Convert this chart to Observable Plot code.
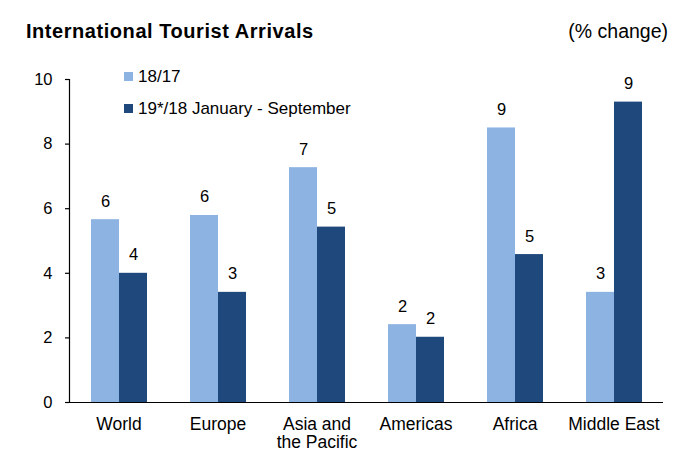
<!DOCTYPE html>
<html>
<head>
<meta charset="utf-8">
<script src="https://cdn.jsdelivr.net/npm/d3@7"></script>
<script src="https://cdn.jsdelivr.net/npm/@observablehq/plot@0.6"></script>
<style>
  html, body { margin: 0; padding: 0; background: #fff; }
  #wrap { position: relative; width: 691px; height: 466px; font-family: "Liberation Sans", Arial, sans-serif; color: #000; }
  #title { position: absolute; left: 26px; top: 20px; font-size: 20px; font-weight: bold; letter-spacing: 0.55px; white-space: nowrap; }
  #unit { position: absolute; right: 23px; top: 20px; font-size: 19.5px; white-space: nowrap; }
  .leg { position: absolute; left: 124px; font-size: 17px; white-space: nowrap; line-height: 1; }
  .leg span.sw { display: inline-block; width: 9px; height: 9px; margin-right: 5px; vertical-align: 1px; }
  svg { position: absolute; left: 0; top: 0; }
</style>
</head>
<body>
<div id="wrap"></div>
<script>
const regions = ["World", "Europe", "Asia and the Pacific", "Americas", "Africa", "Middle East"];
const regionLabels = ["World", "Europe", "Asia and\nthe Pacific", "Americas", "Africa", "Middle East"];
const seriesNames = ["18/17", "19*/18 January - September"];
const values1817 = [5.66, 5.79, 7.27, 2.41, 8.5, 3.41];
const values19 = [4.0, 3.41, 5.43, 2.02, 4.58, 9.3];
const labels1817 = ["6", "6", "7", "2", "9", "3"];
const labels19 = ["4", "3", "5", "2", "5", "9"];
const yTicks = [0, 2, 4, 6, 8, 10];
const colors = ["#8DB3E2", "#1F497D"];

const data = [];
regions.forEach((r, i) => {
  data.push({region: r, series: seriesNames[0], value: values1817[i], label: labels1817[i]});
  data.push({region: r, series: seriesNames[1], value: values19[i], label: labels19[i]});
});

const chart = Plot.plot({
  width: 691,
  height: 466,
  marginTop: 79,
  marginBottom: 64,
  marginLeft: 67,
  marginRight: 27,
  style: {fontFamily: "Liberation Sans, Arial, sans-serif", background: "transparent", color: "#000"},
  fx: {domain: regions, padding: 0, axis: null},
  x: {domain: seriesNames, paddingInner: 0, paddingOuter: 0.745, axis: null},
  y: {domain: [0, 10], axis: null},
  color: {domain: seriesNames, range: colors},
  marks: [
    Plot.barY(data, {fx: "region", x: "series", y: "value", fill: "series"}),
    Plot.text(data, {fx: "region", x: "series", y: "value", text: "label", lineAnchor: "bottom", dy: -13, fontSize: 16.5, fill: "#000"}),
    Plot.ruleY([0], {stroke: "#000", strokeWidth: 1.2}),
    Plot.frame({anchor: "left", facetAnchor: "left", stroke: "#000", strokeWidth: 1.2}),
    Plot.axisY({ticks: yTicks, tickSize: 4, tickPadding: 13, fontSize: 16.5, stroke: "#000", strokeWidth: 1.2, label: null}),
    Plot.axisFx({anchor: "bottom", tickSize: 0, tickPadding: 14, fontSize: 17.5, lineHeight: 1.05, label: null,
      tickFormat: d => regionLabels[regions.indexOf(d)]})
  ]
});

const wrap = document.getElementById("wrap");
wrap.appendChild(chart);

const t = document.createElement("div"); t.id = "title"; t.textContent = "International Tourist Arrivals"; wrap.appendChild(t);
const u = document.createElement("div"); u.id = "unit"; u.textContent = "(% change)"; wrap.appendChild(u);
seriesNames.forEach((s, i) => {
  const d = document.createElement("div");
  d.className = "leg";
  d.style.top = (68 + i * 32) + "px";
  const sw = document.createElement("span"); sw.className = "sw"; sw.style.background = colors[i];
  d.appendChild(sw);
  d.appendChild(document.createTextNode(s));
  wrap.appendChild(d);
});
</script>
</body>
</html>
